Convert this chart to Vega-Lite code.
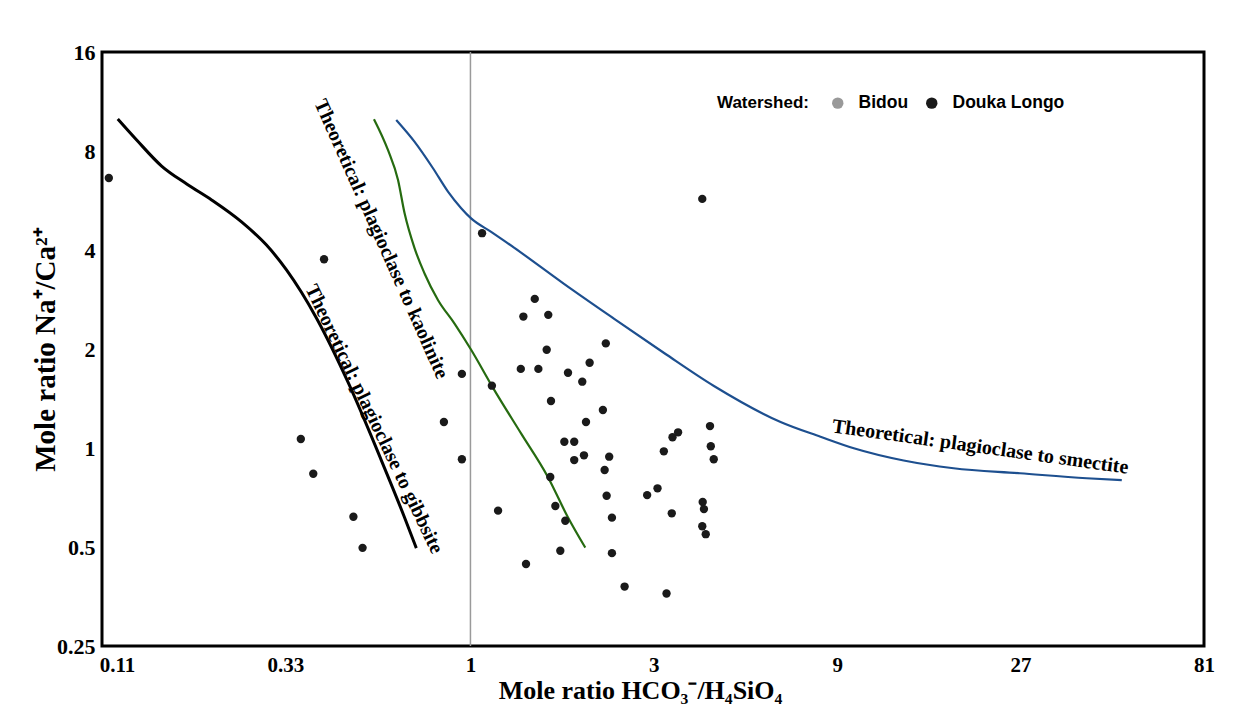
{
  "$schema": "https://vega.github.io/schema/vega-lite/v6.json",
  "width": 1102,
  "height": 594,
  "autosize": {"type": "none"},
  "padding": {"left": 102, "top": 52, "right": 42, "bottom": 76},
  "background": "#ffffff",
  "config": {
    "view": {"stroke": "#000000", "strokeWidth": 3},
    "axis": {
      "domain": false, "ticks": false, "grid": false,
      "labelFont": "Liberation Serif", "labelFontWeight": "bold", "labelFontSize": 21, "labelColor": "#000000",
      "titleFont": "Liberation Serif", "titleFontWeight": "bold", "titleFontSize": 27, "titleColor": "#000000"
    },
    "text": {"font": "Liberation Serif", "fontWeight": "bold", "fontSize": 20, "color": "#000000"}
  },
  "datasets": {
    "points": [
      {"x": 0.1146, "y": 6.62, "watershed": "Douka Longo"},
      {"x": 4.01, "y": 5.72, "watershed": "Douka Longo"},
      {"x": 1.072, "y": 4.50, "watershed": "Douka Longo"},
      {"x": 0.416, "y": 3.75, "watershed": "Douka Longo"},
      {"x": 1.47, "y": 2.84, "watershed": "Douka Longo"},
      {"x": 1.373, "y": 2.51, "watershed": "Douka Longo"},
      {"x": 1.594, "y": 2.54, "watershed": "Douka Longo"},
      {"x": 2.25, "y": 2.08, "watershed": "Douka Longo"},
      {"x": 1.579, "y": 1.99, "watershed": "Douka Longo"},
      {"x": 0.950, "y": 1.68, "watershed": "Douka Longo"},
      {"x": 1.352, "y": 1.74, "watershed": "Douka Longo"},
      {"x": 1.502, "y": 1.74, "watershed": "Douka Longo"},
      {"x": 1.794, "y": 1.694, "watershed": "Douka Longo"},
      {"x": 2.042, "y": 1.817, "watershed": "Douka Longo"},
      {"x": 1.954, "y": 1.591, "watershed": "Douka Longo"},
      {"x": 1.137, "y": 1.547, "watershed": "Douka Longo"},
      {"x": 1.620, "y": 1.390, "watershed": "Douka Longo"},
      {"x": 2.211, "y": 1.305, "watershed": "Douka Longo"},
      {"x": 0.853, "y": 1.20, "watershed": "Douka Longo"},
      {"x": 1.998, "y": 1.20, "watershed": "Douka Longo"},
      {"x": 0.362, "y": 1.065, "watershed": "Douka Longo"},
      {"x": 1.755, "y": 1.045, "watershed": "Douka Longo"},
      {"x": 1.862, "y": 1.045, "watershed": "Douka Longo"},
      {"x": 3.355, "y": 1.078, "watershed": "Douka Longo"},
      {"x": 3.469, "y": 1.116, "watershed": "Douka Longo"},
      {"x": 4.20, "y": 1.166, "watershed": "Douka Longo"},
      {"x": 4.22, "y": 1.012, "watershed": "Douka Longo"},
      {"x": 3.185, "y": 0.977, "watershed": "Douka Longo"},
      {"x": 1.974, "y": 0.950, "watershed": "Douka Longo"},
      {"x": 2.296, "y": 0.941, "watershed": "Douka Longo"},
      {"x": 1.862, "y": 0.919, "watershed": "Douka Longo"},
      {"x": 0.950, "y": 0.924, "watershed": "Douka Longo"},
      {"x": 4.295, "y": 0.924, "watershed": "Douka Longo"},
      {"x": 0.390, "y": 0.835, "watershed": "Douka Longo"},
      {"x": 1.613, "y": 0.816, "watershed": "Douka Longo"},
      {"x": 2.234, "y": 0.857, "watershed": "Douka Longo"},
      {"x": 3.067, "y": 0.754, "watershed": "Douka Longo"},
      {"x": 2.882, "y": 0.719, "watershed": "Douka Longo"},
      {"x": 2.261, "y": 0.716, "watershed": "Douka Longo"},
      {"x": 4.02, "y": 0.685, "watershed": "Douka Longo"},
      {"x": 4.05, "y": 0.652, "watershed": "Douka Longo"},
      {"x": 1.180, "y": 0.645, "watershed": "Douka Longo"},
      {"x": 1.663, "y": 0.666, "watershed": "Douka Longo"},
      {"x": 0.496, "y": 0.618, "watershed": "Douka Longo"},
      {"x": 3.34, "y": 0.633, "watershed": "Douka Longo"},
      {"x": 2.334, "y": 0.614, "watershed": "Douka Longo"},
      {"x": 1.765, "y": 0.601, "watershed": "Douka Longo"},
      {"x": 4.01, "y": 0.578, "watershed": "Douka Longo"},
      {"x": 4.094, "y": 0.547, "watershed": "Douka Longo"},
      {"x": 0.524, "y": 0.497, "watershed": "Douka Longo"},
      {"x": 1.713, "y": 0.487, "watershed": "Douka Longo"},
      {"x": 2.334, "y": 0.479, "watershed": "Douka Longo"},
      {"x": 1.395, "y": 0.444, "watershed": "Douka Longo"},
      {"x": 2.518, "y": 0.379, "watershed": "Douka Longo"},
      {"x": 3.237, "y": 0.361, "watershed": "Douka Longo"}
    ],
    "curves": [
      {"curve": "gibbsite", "x": 0.1209, "y": 10.01},
      {"curve": "gibbsite", "x": 0.1354, "y": 8.64},
      {"curve": "gibbsite", "x": 0.1572, "y": 7.20},
      {"curve": "gibbsite", "x": 0.1827, "y": 6.35},
      {"curve": "gibbsite", "x": 0.2121, "y": 5.68},
      {"curve": "gibbsite", "x": 0.2538, "y": 4.87},
      {"curve": "gibbsite", "x": 0.2947, "y": 4.14},
      {"curve": "gibbsite", "x": 0.3322, "y": 3.48},
      {"curve": "gibbsite", "x": 0.363, "y": 2.98},
      {"curve": "gibbsite", "x": 0.3974, "y": 2.485},
      {"curve": "gibbsite", "x": 0.4812, "y": 1.577},
      {"curve": "gibbsite", "x": 0.586, "y": 0.919},
      {"curve": "gibbsite", "x": 0.673, "y": 0.617},
      {"curve": "gibbsite", "x": 0.723, "y": 0.496},
      {"curve": "kaolinite", "x": 0.561, "y": 10.0},
      {"curve": "kaolinite", "x": 0.610, "y": 8.06},
      {"curve": "kaolinite", "x": 0.648, "y": 6.53},
      {"curve": "kaolinite", "x": 0.674, "y": 5.17},
      {"curve": "kaolinite", "x": 0.715, "y": 4.06},
      {"curve": "kaolinite", "x": 0.759, "y": 3.40},
      {"curve": "kaolinite", "x": 0.823, "y": 2.82},
      {"curve": "kaolinite", "x": 0.909, "y": 2.39},
      {"curve": "kaolinite", "x": 1.004, "y": 1.99},
      {"curve": "kaolinite", "x": 1.154, "y": 1.50},
      {"curve": "kaolinite", "x": 1.354, "y": 1.108},
      {"curve": "kaolinite", "x": 1.589, "y": 0.818},
      {"curve": "kaolinite", "x": 1.79, "y": 0.618},
      {"curve": "kaolinite", "x": 1.989, "y": 0.498},
      {"curve": "smectite", "x": 0.641, "y": 9.94},
      {"curve": "smectite", "x": 0.715, "y": 8.54},
      {"curve": "smectite", "x": 0.799, "y": 7.09},
      {"curve": "smectite", "x": 0.874, "y": 6.02},
      {"curve": "smectite", "x": 0.946, "y": 5.36},
      {"curve": "smectite", "x": 1.004, "y": 4.99},
      {"curve": "smectite", "x": 1.132, "y": 4.54},
      {"curve": "smectite", "x": 1.301, "y": 4.06},
      {"curve": "smectite", "x": 1.755, "y": 3.15},
      {"curve": "smectite", "x": 2.366, "y": 2.47},
      {"curve": "smectite", "x": 3.19, "y": 1.945},
      {"curve": "smectite", "x": 4.30, "y": 1.544},
      {"curve": "smectite", "x": 6.41, "y": 1.20},
      {"curve": "smectite", "x": 8.14, "y": 1.082},
      {"curve": "smectite", "x": 9.94, "y": 0.998},
      {"curve": "smectite", "x": 13.40, "y": 0.916},
      {"curve": "smectite", "x": 18.07, "y": 0.868},
      {"curve": "smectite", "x": 26.9, "y": 0.838},
      {"curve": "smectite", "x": 40.1, "y": 0.809},
      {"curve": "smectite", "x": 49.5, "y": 0.799}
    ],
    "labels": [
      {"curve": "gibbsite", "x": 0.561, "y": 1.225, "text": "Theoretical: plagioclase to gibbsite"},
      {"curve": "kaolinite", "x": 0.586, "y": 4.32, "text": "Theoretical: plagioclase to kaolinite"},
      {"curve": "smectite", "x": 21.2, "y": 1.007, "text": "Theoretical: plagioclase to smectite"}
    ],
    "refline": [{"x": 1}]
  },
  "layer": [
    {
      "data": {"name": "refline"},
      "mark": {"type": "rule", "color": "#9a9a9a", "strokeWidth": 1.5},
      "encoding": {
        "x": {
          "field": "x", "type": "quantitative",
          "scale": {"type": "log", "base": 3, "domain": [0.11, 81], "nice": false, "zero": false},
          "axis": {
            "title": "Mole ratio HCO₃⁻/H₄SiO₄",
            "values": [0.11, 0.33, 1, 3, 9, 27, 81],
            "labelExpr": "datum.value < 1 ? format(datum.value, '.2f') : format(datum.value, 'd')",
            "labelFontSize": 21,
            "labelFlush": false,
            "labelPadding": 8,
            "labelOffset": {"condition": {"test": "datum.value < 0.2", "value": 15}, "value": 0},
            "titlePadding": 2,
            "titleX": 538,
            "titleFontSize": 26
          }
        }
      }
    },
    {
      "data": {"name": "curves"},
      "transform": [{"filter": "datum.curve === 'gibbsite'"}],
      "mark": {"type": "line", "color": "#000000", "strokeWidth": 3, "interpolate": "monotone"},
      "encoding": {
        "x": {"field": "x", "type": "quantitative"},
        "y": {
          "field": "y", "type": "quantitative",
          "scale": {"type": "log", "base": 2, "domain": [0.25, 16], "nice": false, "zero": false},
          "axis": {
            "title": "Mole ratio Na⁺/Ca²⁺",
            "values": [0.25, 0.5, 1, 2, 4, 8, 16],
            "labelExpr": "format(datum.value, '~g')",
            "labelFontSize": 22,
            "labelPadding": 7,
            "titlePadding": -4,
            "titleFontSize": 29
          }
        }
      }
    },
    {
      "data": {"name": "curves"},
      "transform": [{"filter": "datum.curve === 'kaolinite'"}],
      "mark": {"type": "line", "color": "#266b10", "strokeWidth": 2.2, "interpolate": "monotone"},
      "encoding": {
        "x": {"field": "x", "type": "quantitative"},
        "y": {"field": "y", "type": "quantitative"}
      }
    },
    {
      "data": {"name": "curves"},
      "transform": [{"filter": "datum.curve === 'smectite'"}],
      "mark": {"type": "line", "color": "#1d4f8f", "strokeWidth": 2.2, "interpolate": "monotone"},
      "encoding": {
        "x": {"field": "x", "type": "quantitative"},
        "y": {"field": "y", "type": "quantitative"}
      }
    },
    {
      "data": {"name": "points"},
      "mark": {"type": "circle", "size": 70, "opacity": 1},
      "encoding": {
        "x": {"field": "x", "type": "quantitative"},
        "y": {"field": "y", "type": "quantitative"},
        "color": {
          "field": "watershed", "type": "nominal",
          "scale": {"domain": ["Bidou", "Douka Longo"], "range": ["#999999", "#1a1a1a"]},
          "legend": {
            "title": "Watershed:",
            "orient": "none", "legendX": 615, "legendY": 42,
            "direction": "horizontal", "titleOrient": "left",
            "titleFont": "Liberation Sans", "titleFontSize": 17, "titleFontWeight": "bold", "titleColor": "#000000",
            "labelFont": "Liberation Sans", "labelFontSize": 17.5, "labelFontWeight": "bold", "labelColor": "#000000",
            "symbolType": "circle", "symbolSize": 130, "columnPadding": 14, "titlePadding": 20, "labelOffset": 12
          }
        }
      }
    },
    {
      "data": {"name": "labels"},
      "transform": [{"filter": "datum.curve === 'gibbsite'"}],
      "mark": {"type": "text", "angle": 64.5, "align": "center", "baseline": "middle"},
      "encoding": {
        "x": {"field": "x", "type": "quantitative"},
        "y": {"field": "y", "type": "quantitative"},
        "text": {"field": "text"}
      }
    },
    {
      "data": {"name": "labels"},
      "transform": [{"filter": "datum.curve === 'kaolinite'"}],
      "mark": {"type": "text", "angle": 66, "align": "center", "baseline": "middle"},
      "encoding": {
        "x": {"field": "x", "type": "quantitative"},
        "y": {"field": "y", "type": "quantitative"},
        "text": {"field": "text"}
      }
    },
    {
      "data": {"name": "labels"},
      "transform": [{"filter": "datum.curve === 'smectite'"}],
      "mark": {"type": "text", "angle": 8, "align": "center", "baseline": "middle"},
      "encoding": {
        "x": {"field": "x", "type": "quantitative"},
        "y": {"field": "y", "type": "quantitative"},
        "text": {"field": "text"}
      }
    }
  ]
}
